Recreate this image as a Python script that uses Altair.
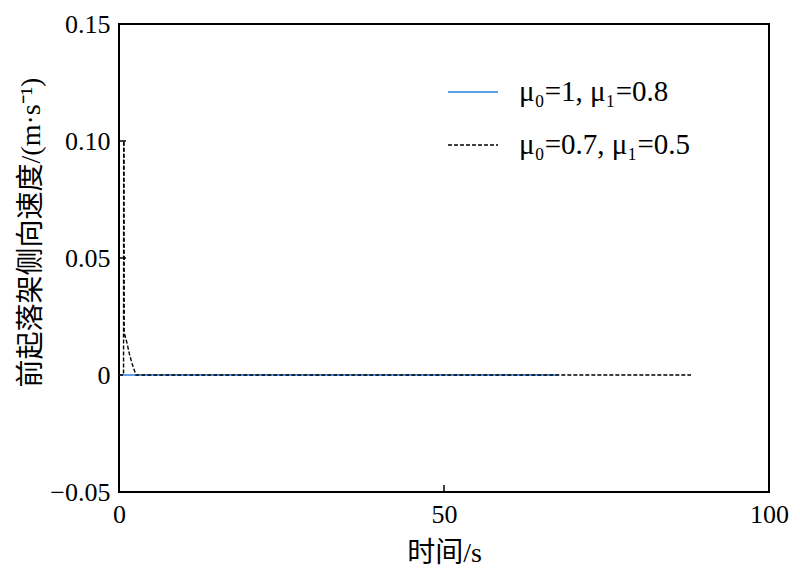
import altair as alt
import pandas as pd

series_names = ["μ₀=1, μ₁=0.8", "μ₀=0.7, μ₁=0.5"]
series_colors = ["#2a7de1", "#000000"]
series_dash = [[1, 0], [4, 2]]

t_blue = [0, 67.5]
v_blue = [0, 0]

t_black = [0, 0.7, 0.72, 0.78, 0.8, 1.2, 1.6, 2.0, 2.6, 88]
v_black = [0, 0, 0.1, 0.1, 0.018, 0.014, 0.009, 0.005, 0, 0]

y_ticks = [-0.05, 0, 0.05, 0.10, 0.15]
x_ticks = [0, 50, 100]

rows = []
for t, v in zip(t_blue, v_blue):
    rows.append({"t": t, "v": v, "series": series_names[0], "ord": 0})
for t, v in zip(t_black, v_black):
    rows.append({"t": t, "v": v, "series": series_names[1], "ord": 1})
df = pd.DataFrame(rows)

FONT = "'Liberation Serif', 'Noto Sans CJK SC', serif"

xs = alt.Scale(domain=[0, 100], nice=False)
ys = alt.Scale(domain=[-0.05, 0.15], nice=False)

lines = alt.Chart(df).mark_line(strokeWidth=1.4).encode(
    x=alt.X("t:Q", scale=xs,
            axis=alt.Axis(title="时间/s", values=x_ticks, ticks=False, labelPadding=9,
                          labelFlush=False, titlePadding=12, domain=False, grid=False)),
    y=alt.Y("v:Q", scale=ys,
            axis=alt.Axis(title="前起落架侧向速度/(m·s⁻¹)", values=y_ticks, ticks=False,
                          labelExpr="datum.value == 0 ? '0' : format(datum.value, '.2f')",
                          labelPadding=9, titleX=-74, titleY=208, labelFlush=False,
                          domain=False, grid=False)),
    color=alt.Color("series:N", scale=alt.Scale(domain=series_names, range=series_colors),
                    legend=alt.Legend(title=None, orient="none", legendX=328, legendY=42,
                                      symbolType="stroke", symbolSize=2500, symbolStrokeWidth=1.5,
                                      labelFontSize=29, labelFont=FONT, labelOffset=20,
                                      rowPadding=12, labelLimit=400)),
    strokeDash=alt.StrokeDash("series:N", scale=alt.Scale(domain=series_names, range=series_dash)),
    order="ord:Q",
)

ytick_df = pd.DataFrame({"v": [0.05, 0.10]})
ytk = alt.Chart(ytick_df).mark_rule(color="black", strokeWidth=1.5).encode(
    y=alt.Y("v:Q", scale=ys), x=alt.value(0), x2=alt.value(7))
xtick_df = pd.DataFrame({"t": [50]})
xtk = alt.Chart(xtick_df).mark_rule(color="black", strokeWidth=1.5).encode(
    x=alt.X("t:Q", scale=xs), y=alt.value(468), y2=alt.value(461))

chart = alt.layer(lines, ytk, xtk).properties(
    width=650, height=468,
    autosize=alt.AutoSizeParams(type="none"),
    padding={"left": 111, "top": 16, "right": 20, "bottom": 76},
).configure(background="white").configure_view(
    stroke="black", strokeWidth=2
).configure_axis(
    labelFont=FONT, titleFont=FONT, labelFontSize=26, titleFontSize=28,
    labelColor="black", titleColor="black", titleFontWeight="normal",
)

chart.save("out.html", embed_options={"renderer": "svg", "actions": False})
